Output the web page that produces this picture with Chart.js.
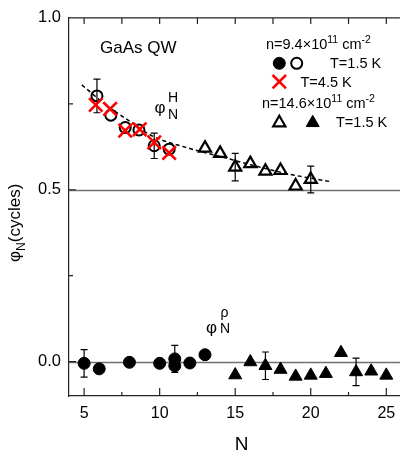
<!DOCTYPE html>
<html>
<head>
<meta charset="utf-8">
<script src="https://cdn.jsdelivr.net/npm/chart.js@4/dist/chart.umd.min.js"></script>
<style>
    html, body { margin: 0; padding: 0; background: #fff; }
    #wrap { width: 412px; height: 453px; }
</style>
</head>
<body>
<div id="wrap"><canvas id="phaseChart" width="412" height="453"></canvas></div>
<script>
// n = 9.4e11 cm^-2, T = 1.5 K, Hall phase (open circles)
const openCircleN = [5.85, 6.77, 7.72, 8.63, 9.64, 10.63];
const openCirclePhi = [0.773, 0.717, 0.681, 0.674, 0.628, 0.618];
const openCircleErr = [0.049, 0, 0, 0, 0.037, 0];

// n = 9.4e11 cm^-2, T = 4.5 K (red crosses)
const crossN = [5.77, 6.72, 7.72, 8.68, 9.64, 10.63];
const crossPhi = [0.747, 0.735, 0.672, 0.676, 0.638, 0.607];

// n = 14.6e11 cm^-2, T = 1.5 K, Hall phase (open triangles)
const openTriN = [13, 14, 15, 16, 17, 18, 19, 20];
const openTriPhi = [0.621, 0.606, 0.566, 0.576, 0.554, 0.556, 0.511, 0.530];
const openTriErr = [0, 0, 0.040, 0, 0, 0, 0, 0.039];

// n = 9.4e11 cm^-2, resistivity phase (filled circles)
const fullCircleN = [5, 6, 8, 10, 11, 11, 12, 13];
const fullCirclePhi = [-0.005, -0.021, -0.002, -0.005, 0.008, -0.012, -0.004, 0.020];
const fullCircleErr = [0.040, 0, 0, 0, 0.039, 0, 0, 0];

// n = 14.6e11 cm^-2, resistivity phase (filled triangles)
const fullTriN = [15, 16, 17, 18, 19, 20, 21, 22, 23, 24, 25];
const fullTriPhi = [-0.039, -0.001, -0.012, -0.023, -0.043, -0.040, -0.035, 0.026, -0.030, -0.028, -0.040];
const fullTriErr = [0, 0, 0.040, 0, 0, 0, 0, 0, 0.040, 0, 0];

// dashed guide through the Hall phase
const fitN = [4.85, 6.5, 8, 9.5, 12, 14, 16, 18.5, 21.4];
const fitPhi = [0.805, 0.745, 0.700, 0.657, 0.620, 0.597, 0.573, 0.546, 0.523];

const xTicks = [5, 10, 15, 20, 25];
const xMinorTicks = [7.5, 12.5, 17.5, 22.5];
const yTicks = [0, 0.5, 1.0];
const yMinorTicks = [0.25, 0.75];
const refLines = [0, 0.5];

const FONT = '"Liberation Sans", Arial, sans-serif';

const styles = {
    fullCircle: { pointStyle: 'circle', radius: 6, backgroundColor: '#000', borderColor: '#000', borderWidth: 1 },
    openCircle: { pointStyle: 'circle', radius: 5.5, backgroundColor: 'rgba(0,0,0,0)', borderColor: '#000', borderWidth: 2 },
    cross: { pointStyle: 'crossRot', radius: 9.5, backgroundColor: '#ff0000', borderColor: '#ff0000', borderWidth: 2.6 },
    openTri: { pointStyle: 'triangle', radius: 7, backgroundColor: 'rgba(0,0,0,0)', borderColor: '#000', borderWidth: 2.2 },
    fullTri: { pointStyle: 'triangle', radius: 7.5, backgroundColor: '#000', borderColor: '#000', borderWidth: 1 }
};

function toPoints(xs, ys) {
    return xs.map((x, i) => ({ x, y: ys[i] }));
}

function markerSet(label, xs, ys, style, errs, order) {
    return {
        label,
        data: toPoints(xs, ys),
        errorBars: errs || null,
        showLine: false,
        order,
        pointStyle: style.pointStyle,
        pointRadius: style.radius,
        pointHoverRadius: style.radius,
        pointBackgroundColor: style.backgroundColor,
        pointBorderColor: style.borderColor,
        pointBorderWidth: style.borderWidth
    };
}

// text runs with super/subscripts, left to right from (x, y) on the baseline
function drawRich(ctx, parts, x, y, size) {
    let cx = x;
    parts.forEach(([text, kind]) => {
        const s = kind ? size * 0.72 : size;
        const dy = kind === 'sup' ? -size * 0.42 : kind === 'sub' ? size * 0.28 : 0;
        ctx.font = `${s}px ${FONT}`;
        ctx.fillText(text, cx, y + dy);
        cx += ctx.measureText(text).width;
    });
    return cx;
}

function drawMarker(ctx, style, x, y) {
    ctx.save();
    ctx.fillStyle = style.backgroundColor;
    ctx.strokeStyle = style.borderColor;
    ctx.lineWidth = style.borderWidth;
    Chart.helpers.drawPoint(ctx, { pointStyle: style.pointStyle, radius: style.radius, rotation: 0, borderWidth: style.borderWidth }, x, y);
    ctx.restore();
}

const refLinePlugin = {
    id: 'refLines',
    beforeDatasetsDraw(chart) {
        const { ctx, chartArea, scales: { y } } = chart;
        ctx.save();
        ctx.strokeStyle = '#707070';
        ctx.lineWidth = 1.6;
        refLines.forEach((v) => {
            const py = Math.round(y.getPixelForValue(v)) + 0.5;
            ctx.beginPath();
            ctx.moveTo(chartArea.left, py);
            ctx.lineTo(chartArea.right, py);
            ctx.stroke();
        });
        ctx.restore();
    }
};

const errorBarPlugin = {
    id: 'errorBars',
    beforeDatasetsDraw(chart) {
        const { ctx, scales: { x, y } } = chart;
        ctx.save();
        ctx.strokeStyle = '#000';
        ctx.lineWidth = 1.2;
        chart.data.datasets.forEach((ds) => {
            if (!ds.errorBars) return;
            ds.data.forEach((p, i) => {
                const e = ds.errorBars[i];
                if (!e) return;
                const px = x.getPixelForValue(p.x);
                const top = y.getPixelForValue(p.y + e);
                const bot = y.getPixelForValue(p.y - e);
                ctx.beginPath();
                ctx.moveTo(px, top); ctx.lineTo(px, bot);
                ctx.moveTo(px - 3.5, top); ctx.lineTo(px + 3.5, top);
                ctx.moveTo(px - 3.5, bot); ctx.lineTo(px + 3.5, bot);
                ctx.stroke();
            });
        });
        ctx.restore();
    }
};

// top border and inward ticks on left, top and bottom
const framePlugin = {
    id: 'frame',
    afterDraw(chart) {
        const { ctx, chartArea: a, scales: { x, y } } = chart;
        ctx.save();
        ctx.strokeStyle = '#222';
        ctx.lineWidth = 1.2;
        ctx.beginPath();
        ctx.moveTo(a.left, a.top);
        ctx.lineTo(a.right, a.top);
        const tickX = (v, len, top) => {
            const px = x.getPixelForValue(v);
            ctx.moveTo(px, a.bottom); ctx.lineTo(px, a.bottom - len);
            ctx.moveTo(px, a.top); ctx.lineTo(px, a.top + top);
        };
        xTicks.forEach((v) => tickX(v, 8, 6));
        xMinorTicks.forEach((v) => tickX(v, 4, 6));
        yTicks.forEach((v) => {
            const py = y.getPixelForValue(v);
            ctx.moveTo(a.left, py); ctx.lineTo(a.left + 7, py);
        });
        yMinorTicks.forEach((v) => {
            const py = y.getPixelForValue(v);
            ctx.moveTo(a.left, py); ctx.lineTo(a.left + 4, py);
        });
        ctx.stroke();
        ctx.restore();
    }
};

const annotationPlugin = {
    id: 'annotations',
    afterDraw(chart) {
        const { ctx } = chart;
        ctx.save();
        ctx.fillStyle = '#000';
        ctx.textBaseline = 'alphabetic';
        ctx.textAlign = 'left';

        ctx.font = `17px ${FONT}`;
        ctx.fillText('GaAs QW', 100, 52.5);

        // phase labels
        ctx.font = `17px ${FONT}`;
        ctx.fillText('φ', 154.5, 113);
        ctx.font = `14px ${FONT}`;
        ctx.fillText('H', 168, 101.5);
        ctx.fillText('N', 168, 118.5);

        ctx.font = `17px ${FONT}`;
        ctx.fillText('φ', 206, 332.5);
        ctx.font = `14px ${FONT}`;
        ctx.fillText('ρ', 220.5, 317);
        ctx.fillText('N', 220, 332.5);

        // legend
        const ls = 14.5;
        drawRich(ctx, [['n=9.4×10'], ['11', 'sup'], [' cm'], ['-2', 'sup']], 266, 49, ls);
        drawMarker(ctx, styles.fullCircle, 279.3, 63.3);
        drawMarker(ctx, styles.openCircle, 296.7, 63.3);
        drawRich(ctx, [['T=1.5 K']], 330, 68.3, ls);
        drawMarker(ctx, styles.cross, 279.3, 81.7);
        drawRich(ctx, [['T=4.5 K']], 300.5, 87.3, ls);
        drawRich(ctx, [['n=14.6×10'], ['11', 'sup'], [' cm'], ['-2', 'sup']], 262, 108, ls);
        drawMarker(ctx, styles.openTri, 279.3, 122.8);
        drawMarker(ctx, styles.fullTri, 312.7, 122.8);
        drawRich(ctx, [['T=1.5 K']], 336, 126.7, ls);

        // axis titles
        ctx.font = `19px ${FONT}`;
        ctx.textAlign = 'center';
        ctx.fillText('N', 241.5, 449.5);

        ctx.translate(20, 262);
        ctx.rotate(-Math.PI / 2);
        ctx.textAlign = 'left';
        drawRich(ctx, [['φ'], ['N', 'sub'], ['(cycles)']], 0, 0, 17);
        ctx.restore();
    }
};

new Chart(document.getElementById('phaseChart'), {
    type: 'scatter',
    data: {
        datasets: [
            markerSet('T=4.5 K', crossN, crossPhi, styles.cross, null, 0),
            markerSet('T=1.5 K open', openCircleN, openCirclePhi, styles.openCircle, openCircleErr, 1),
            markerSet('n=14.6 open', openTriN, openTriPhi, styles.openTri, openTriErr, 2),
            markerSet('n=9.4 filled', fullCircleN, fullCirclePhi, styles.fullCircle, fullCircleErr, 3),
            markerSet('n=14.6 filled', fullTriN, fullTriPhi, styles.fullTri, fullTriErr, 4),
            {
                label: 'fit',
                data: toPoints(fitN, fitPhi),
                showLine: true,
                order: 5,
                borderColor: '#000',
                borderWidth: 1.5,
                borderDash: [4, 3],
                cubicInterpolationMode: 'monotone',
                pointRadius: 0,
                fill: false
            }
        ]
    },
    options: {
        responsive: false,
        devicePixelRatio: 1,
        animation: false,
        layout: { padding: { top: 17, right: 0, left: 0, bottom: 0 } },
        plugins: { legend: { display: false }, tooltip: { enabled: false } },
        scales: {
            x: {
                type: 'linear',
                min: 4,
                max: 25.9,
                afterBuildTicks: (s) => { s.ticks = xTicks.map((v) => ({ value: v })); },
                afterFit: (s) => { s.height = 57; },
                ticks: { color: '#000', font: { family: FONT, size: 16 }, padding: 8, maxRotation: 0, autoSkip: false },
                grid: { display: false, drawTicks: false },
                border: { display: true, color: '#222', width: 1.2 }
            },
            y: {
                min: -0.1,
                max: 1.0,
                afterBuildTicks: (s) => { s.ticks = yTicks.map((v) => ({ value: v })); },
                afterFit: (s) => { s.width = 69; },
                ticks: { color: '#000', font: { family: FONT, size: 16.5 }, padding: 8, callback: (v) => v.toFixed(1) },
                grid: { display: false, drawTicks: false },
                border: { display: true, color: '#222', width: 1.2 }
            }
        }
    },
    plugins: [refLinePlugin, errorBarPlugin, framePlugin, annotationPlugin]
});
</script>
</body>
</html>
